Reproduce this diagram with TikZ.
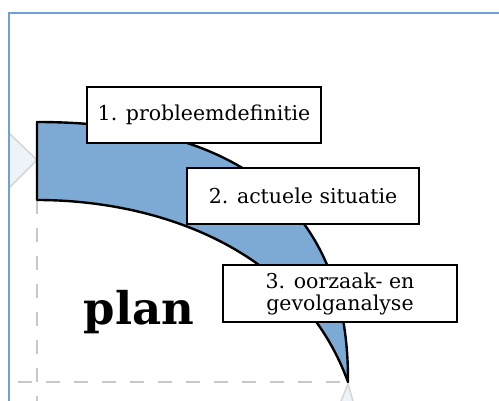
\documentclass[tikz,border=0pt]{standalone}
\usepackage{fontspec}
\setmainfont{DejaVu Serif}
\begin{document}
\begin{tikzpicture}[x=1pt,y=-1pt,
  framecol/.style={draw=frameblue,line width=1.2pt},
  guide/.style={draw=guidegray,line width=2pt,dash pattern=on 14pt off 14pt},
  chevron/.style={draw=chevgray,fill=chevfill,line width=1.5pt},
  sector/.style={draw=black,fill=sectorblue,line width=2.4pt,line join=round},
  stepbox/.style={draw=black,fill=white,line width=2.6pt,inner sep=0pt,
    align=center,font=\fontsize{20.5}{22}\selectfont},
  title/.style={font=\fontsize{45}{50}\selectfont\bfseries,inner sep=0pt}]
\definecolor{frameblue}{RGB}{111,160,216}
\definecolor{guidegray}{RGB}{200,200,200}
\definecolor{chevgray}{RGB}{214,214,214}
\definecolor{chevfill}{RGB}{238,242,249}
\definecolor{sectorblue}{RGB}{125,170,212}

\useasboundingbox (0,0) rectangle (499,401);
\fill[white] (0,0) rectangle (499,401);

% neighbouring arrow tips peeking in
\draw[chevron] (9,133) -- (37,160) -- (9,188);
\draw[chevron] (341,401) -- (348,384) -- (353,401);

% dashed guides of the quadrant
\draw[guide] (37,200) -- (37,401);
\draw[guide] (18,382) -- (348,382);

% outer frame
\draw[framecol] (9,401) -- (9,13) -- (499,13);

% the curved band of the plan phase
\draw[sector] (37,122) .. controls (230,122) and (349,200) .. (348,382)
  .. controls (300,250) and (160,200) .. (37,200) -- cycle;

% phase label
\node[title] (plan) at (139,312) {plan};

% steps of the phase
\node[stepbox,minimum width=234pt,minimum height=56pt] (s1) at (204,115) {1. probleemdefinitie};
\node[stepbox,minimum width=232pt,minimum height=56pt] (s2) at (303,196) {2. actuele situatie};
\node[stepbox,minimum width=234pt,minimum height=57pt] (s3) at (340,293.5) {3. oorzaak- en\\gevolganalyse};
\end{tikzpicture}
\end{document}
